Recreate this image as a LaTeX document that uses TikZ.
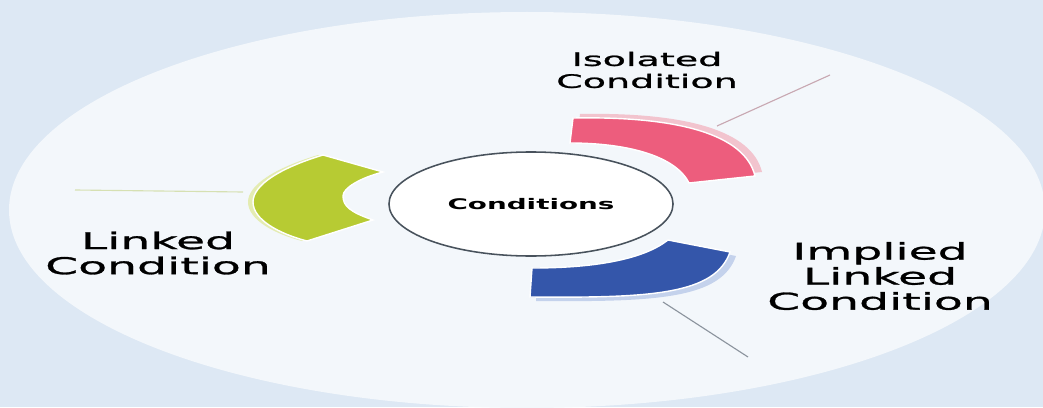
\documentclass[tikz,border=0pt]{standalone}
\usepackage{fontspec}
\newfontfamily\labelfont[FakeStretch=2.05,FakeBold=1.2]{DejaVu Sans}
\newfontfamily\hubfont[FakeStretch=1.9]{DejaVu Sans}
\usetikzlibrary{shapes.geometric}

\definecolor{bgblue}{RGB}{221,232,244}
\definecolor{discfill}{RGB}{243,247,251}
\definecolor{isored}{RGB}{237,93,125}
\definecolor{isoedge}{RGB}{242,196,206}
\definecolor{isoline}{RGB}{200,168,178}
\definecolor{impblue}{RGB}{52,86,170}
\definecolor{impedge}{RGB}{196,210,236}
\definecolor{impline}{RGB}{140,148,158}
\definecolor{linkgreen}{RGB}{183,203,51}
\definecolor{linkedge}{RGB}{228,236,178}
\definecolor{linkline}{RGB}{214,224,178}
\definecolor{rimgray}{RGB}{72,82,92}

% band outlines, in pixel units
\newcommand\isoband{(573,118) .. controls (680,116) and (745,135) .. (755,176) -- (689,183) .. controls (675,155) and (625,143) .. (570,143) -- cycle}
\newcommand\impband{(532,268) .. controls (600,268) and (645,258) .. (668,240) -- (730,252) .. controls (715,295) and (650,298) .. (530,297) -- cycle}
\newcommand\linkband{(323,155) .. controls (280,168) and (253,185) .. (253,202) .. controls (253,220) and (280,234) .. (307,241) -- (373,220) .. controls (350,212) and (343,206) .. (343,196) .. controls (343,188) and (360,178) .. (383,172) -- cycle}

\begin{document}
\begin{tikzpicture}[
    x=0.025cm, y=-0.025cm,
    tag/.style={font=\labelfont\fontsize{16.4}{17.8}\selectfont,align=center,inner sep=0pt,text=black},
    smalltag/.style={tag,font=\labelfont\fontsize{13.2}{15.6}\selectfont},
    hub/.style={ellipse,draw=rimgray,line width=1.1pt,fill=white,minimum width=7.1cm,minimum height=2.6cm,
      font=\hubfont\bfseries\fontsize{10.4}{12}\selectfont},
    band/.style={draw=white,line width=1pt},
    leader/.style={line width=0.8pt}
    ]

    \useasboundingbox (0,0) rectangle (1043,407);

    % background and disc:
    \fill[bgblue] (0,0) rectangle (1043,407);
    \fill[discfill] (527,210) ellipse [x radius=518, y radius=198];

    % leader lines:
    \coordinate (isoA) at (717,126);
    \coordinate (isoB) at (830,75);
    \coordinate (impA) at (663,302);
    \coordinate (impB) at (748,357);
    \coordinate (linkA) at (243,192);
    \coordinate (linkB) at (75,190);

    \draw[leader,isoline] (isoA) -- (isoB);
    \draw[leader,impline] (impA) -- (impB);
    \draw[leader,linkline] (linkA) -- (linkB);

    % bands:
    \fill[isoedge,shift={(7,-4)}] \isoband;
    \filldraw[band,fill=isored] \isoband;
    \fill[impedge,shift={(6,4)}] \impband;
    \filldraw[band,fill=impblue] \impband;
    \fill[linkedge,shift={(-5,0)}] \linkband;
    \filldraw[band,fill=linkgreen] \linkband;

    % hub:
    \node (hub) [hub] at (531,204) {Conditions};

    % labels:
    \node (iso) [smalltag] at (647,70) {Isolated\\Condition};
    \node (imp) [tag] at (880,276) {Implied\\Linked\\Condition};
    \node (link) [tag] at (158,253) {Linked\\Condition};

\end{tikzpicture}
\end{document}
